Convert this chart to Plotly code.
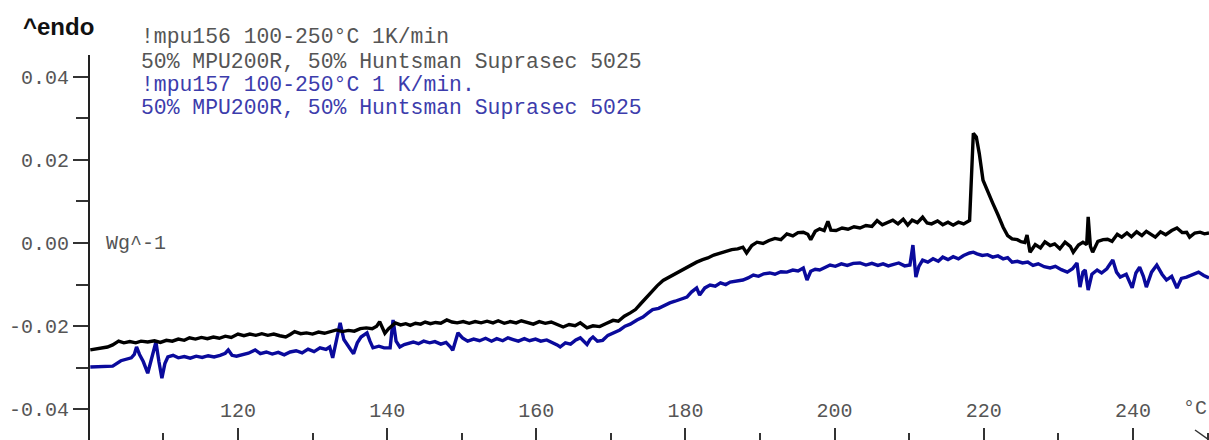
import plotly.graph_objects as go

# ---- data (temperature in °C, heat flow in W/g) ----
t_mpu156 = [100.2, 101.5, 102.5, 103.2, 104.0, 104.7, 105.5, 106.3, 107.0, 107.9, 108.8, 109.6, 110.4, 111.2,
            112.0, 112.8, 113.5, 114.3, 115.1, 115.9, 116.7, 117.5, 118.3, 119.1, 120.0, 120.8, 121.6, 122.4,
            123.2, 124.0, 124.8, 125.6, 126.4, 127.0, 127.6, 128.4, 129.2, 130.0, 130.8, 131.6, 132.4, 133.2,
            134.0, 134.8, 135.6, 136.4, 137.2, 138.0, 138.6, 139.0, 139.4, 139.7, 140.2, 140.7, 141.1, 141.8,
            142.5, 143.1, 143.8, 144.5, 145.1, 145.8, 146.5, 147.2, 148.0, 148.7, 149.4, 150.2, 151.0, 151.8,
            152.6, 153.4, 154.2, 154.9, 155.7, 156.5, 157.3, 158.0, 158.8, 159.6, 160.4, 161.2, 162.0, 162.8,
            163.6, 164.4, 165.2, 165.9, 166.8, 167.6, 168.5, 169.3, 170.3, 171.0, 171.8, 172.6, 173.3, 174.0,
            174.8, 175.5, 176.2, 177.0, 177.8, 178.5, 179.3, 180.0, 180.8, 181.5, 182.3, 183.0, 183.8, 184.6,
            185.4, 186.2, 187.0, 187.7, 188.2, 188.9, 189.6, 190.4, 191.2, 192.0, 192.8, 193.6, 194.4, 195.1,
            195.8, 196.4, 196.8, 197.4, 198.0, 198.6, 199.1, 199.5, 200.2, 201.0, 201.8, 202.6, 203.4, 204.2,
            205.0, 205.7, 206.4, 207.1, 207.8, 208.5, 209.2, 209.8, 210.4, 211.1, 211.8, 212.4, 213.0, 213.8,
            214.5, 215.2, 215.9, 216.6, 217.3, 218.1, 218.4, 218.6, 219.0, 219.4, 219.9, 220.5, 221.2, 221.9,
            222.6, 223.2, 223.8, 224.5, 225.0, 225.5, 225.8, 226.2, 226.9, 227.6, 228.2, 228.9, 229.5, 230.2,
            230.9, 231.6, 232.0, 232.7, 233.3, 233.8, 234.0, 234.3, 234.6, 235.3, 236.0, 236.6, 237.2, 237.9,
            238.5, 239.2, 239.8, 240.5, 241.2, 241.8, 242.3, 243.0, 243.7, 244.4, 245.2, 245.9, 246.6, 247.2,
            247.6, 248.3, 249.0, 249.6, 250.2]
hf_mpu156 = [-0.0257, -0.0253, -0.0250, -0.0245, -0.0236, -0.0240, -0.0237, -0.0240, -0.0236, -0.0238, -0.0235,
             -0.0239, -0.0234, -0.0236, -0.0231, -0.0234, -0.0228, -0.0231, -0.0227, -0.0230, -0.0226, -0.0229,
             -0.0224, -0.0227, -0.0219, -0.0223, -0.0219, -0.0222, -0.0218, -0.0222, -0.0219, -0.0223, -0.0226,
             -0.0220, -0.0213, -0.0218, -0.0216, -0.0219, -0.0214, -0.0217, -0.0212, -0.0209, -0.0213, -0.0210,
             -0.0212, -0.0206, -0.0204, -0.0206, -0.0200, -0.0189, -0.0205, -0.0217, -0.0206, -0.0198, -0.0192,
             -0.0197, -0.0194, -0.0198, -0.0193, -0.0195, -0.0190, -0.0194, -0.0191, -0.0193, -0.0185, -0.0190,
             -0.0192, -0.0189, -0.0193, -0.0189, -0.0192, -0.0188, -0.0192, -0.0187, -0.0193, -0.0189, -0.0192,
             -0.0187, -0.0191, -0.0195, -0.0189, -0.0193, -0.0190, -0.0196, -0.0202, -0.0196, -0.0199, -0.0192,
             -0.0204, -0.0199, -0.0201, -0.0194, -0.0186, -0.0188, -0.0176, -0.0168, -0.0160, -0.0146, -0.0130,
             -0.0118, -0.0103, -0.0090, -0.0082, -0.0076, -0.0069, -0.0060, -0.0054, -0.0046, -0.0040, -0.0036,
             -0.0029, -0.0024, -0.0021, -0.0016, -0.0014, -0.0010, -0.0024, -0.0006, 0.0002, -0.0001, 0.0006,
             0.0011, 0.0008, 0.0022, 0.0017, 0.0025, 0.0026, 0.0021, 0.0008, 0.0028, 0.0034, 0.0030, 0.0052,
             0.0031, 0.0030, 0.0036, 0.0033, 0.0039, 0.0036, 0.0042, 0.0040, 0.0054, 0.0044, 0.0050, 0.0055,
             0.0046, 0.0057, 0.0043, 0.0055, 0.0049, 0.0062, 0.0048, 0.0046, 0.0053, 0.0044, 0.0050, 0.0043,
             0.0050, 0.0046, 0.0054, 0.0200, 0.0264, 0.0255, 0.0215, 0.0151, 0.0124, 0.0096, 0.0068, 0.0038,
             0.0018, 0.0010, 0.0008, 0.0003, 0.0001, 0.0019, -0.0022, -0.0004, -0.0012, 0.0003, -0.0006, -0.0002,
             -0.0014, 0.0002, -0.0008, -0.0022, -0.0005, 0.0002, -0.0004, 0.0063, -0.0008, -0.0022, 0.0004,
             0.0008, 0.0009, 0.0004, 0.0021, 0.0014, 0.0024, 0.0015, 0.0027, 0.0018, 0.0028, 0.0022, 0.0014,
             0.0027, 0.0020, 0.0030, 0.0036, 0.0025, 0.0026, 0.0014, 0.0024, 0.0026, 0.0022, 0.0024]

t_mpu157 = [100.2, 101.5, 102.5, 103.2, 104.3, 105.0, 105.7, 106.1, 106.4, 106.8, 107.3, 107.9, 108.3, 108.7,
            109.0, 109.4, 109.8, 110.2, 110.6, 111.3, 112.0, 112.8, 113.6, 114.4, 115.2, 116.0, 116.8, 117.6,
            118.3, 118.7, 119.2, 119.8, 120.6, 121.4, 122.3, 123.0, 123.8, 124.6, 125.4, 126.2, 127.0, 127.8,
            128.6, 129.4, 130.2, 131.0, 131.8, 132.3, 132.7, 133.2, 133.7, 134.2, 134.6, 135.1, 135.5, 136.0,
            136.5, 137.3, 137.7, 138.1, 138.9, 139.6, 140.4, 140.8, 141.2, 141.7, 142.3, 142.9, 143.5, 144.2,
            144.9, 145.7, 146.4, 147.2, 147.9, 148.5, 148.8, 149.5, 150.1, 150.8, 151.6, 152.4, 153.2, 154.0,
            154.7, 155.5, 156.2, 156.9, 157.6, 158.4, 159.1, 159.9, 160.6, 161.4, 162.1, 162.8, 163.2, 163.9,
            164.6, 165.3, 165.9, 166.4, 166.8, 167.2, 167.6, 168.2, 168.9, 169.6, 170.4, 171.2, 171.9, 172.6,
            173.5, 174.3, 175.0, 175.6, 176.4, 177.1, 177.9, 178.6, 179.4, 180.2, 180.8, 181.5, 181.9, 182.6,
            183.3, 184.0, 184.7, 185.4, 186.0, 186.8, 187.7, 188.4, 189.1, 189.8, 190.5, 191.3, 192.0, 192.8,
            193.6, 194.4, 195.1, 195.8, 196.3, 196.8, 197.4, 198.0, 198.7, 199.4, 200.1, 200.9, 201.7, 202.5,
            203.4, 204.2, 205.0, 205.8, 206.5, 207.2, 207.8, 208.6, 209.4, 210.1, 210.5, 210.9, 211.3, 211.8,
            212.5, 213.2, 213.9, 214.5, 215.2, 215.9, 216.6, 217.3, 218.1, 218.6, 219.1, 219.8, 220.5, 221.2,
            221.9, 222.6, 223.2, 223.8, 224.5, 225.2, 225.9, 226.6, 227.3, 228.1, 228.9, 229.6, 230.4, 231.2,
            231.9, 232.5, 232.9, 233.3, 233.6, 234.0, 234.5, 235.2, 235.8, 236.5, 237.3, 237.8, 238.3, 239.1,
            239.9, 240.4, 240.9, 241.4, 241.8, 242.5, 243.2, 243.9, 244.5, 245.2, 245.9, 246.5, 247.2, 248.0,
            248.8, 249.5, 250.2]
hf_mpu157 = [-0.0298, -0.0298, -0.0297, -0.0296, -0.0283, -0.0279, -0.0276, -0.0268, -0.0250, -0.0268, -0.0285,
             -0.0313, -0.0285, -0.0255, -0.0238, -0.0285, -0.0325, -0.0290, -0.0274, -0.0270, -0.0276, -0.0273,
             -0.0277, -0.0272, -0.0275, -0.0271, -0.0274, -0.0270, -0.0265, -0.0257, -0.0270, -0.0272, -0.0268,
             -0.0265, -0.0257, -0.0266, -0.0262, -0.0267, -0.0263, -0.0269, -0.0262, -0.0259, -0.0264, -0.0255,
             -0.0261, -0.0252, -0.0256, -0.0250, -0.0276, -0.0235, -0.0192, -0.0232, -0.0244, -0.0256, -0.0266,
             -0.0240, -0.0226, -0.0216, -0.0236, -0.0252, -0.0248, -0.0252, -0.0252, -0.0185, -0.0236, -0.0250,
             -0.0244, -0.0240, -0.0238, -0.0242, -0.0236, -0.0240, -0.0237, -0.0243, -0.0239, -0.0250, -0.0258,
             -0.0216, -0.0228, -0.0236, -0.0231, -0.0235, -0.0229, -0.0236, -0.0230, -0.0235, -0.0228, -0.0232,
             -0.0236, -0.0230, -0.0235, -0.0231, -0.0236, -0.0233, -0.0238, -0.0245, -0.0250, -0.0240, -0.0243,
             -0.0233, -0.0228, -0.0236, -0.0244, -0.0232, -0.0226, -0.0236, -0.0234, -0.0222, -0.0216, -0.0209,
             -0.0200, -0.0195, -0.0185, -0.0178, -0.0168, -0.0160, -0.0157, -0.0150, -0.0144, -0.0140, -0.0136,
             -0.0130, -0.0118, -0.0108, -0.0125, -0.0108, -0.0101, -0.0104, -0.0096, -0.0100, -0.0094, -0.0091,
             -0.0089, -0.0084, -0.0077, -0.0080, -0.0074, -0.0072, -0.0075, -0.0069, -0.0070, -0.0065, -0.0067,
             -0.0060, -0.0089, -0.0068, -0.0063, -0.0065, -0.0058, -0.0053, -0.0056, -0.0050, -0.0054, -0.0049,
             -0.0048, -0.0053, -0.0049, -0.0054, -0.0050, -0.0055, -0.0052, -0.0048, -0.0055, -0.0053, -0.0005,
             -0.0082, -0.0056, -0.0041, -0.0046, -0.0038, -0.0044, -0.0034, -0.0040, -0.0033, -0.0038, -0.0030,
             -0.0024, -0.0022, -0.0026, -0.0030, -0.0028, -0.0034, -0.0031, -0.0038, -0.0035, -0.0046, -0.0044,
             -0.0048, -0.0046, -0.0054, -0.0050, -0.0057, -0.0060, -0.0056, -0.0064, -0.0070, -0.0062, -0.0048,
             -0.0106, -0.0070, -0.0065, -0.0113, -0.0075, -0.0065, -0.0072, -0.0062, -0.0041, -0.0070, -0.0082,
             -0.0075, -0.0108, -0.0072, -0.0058, -0.0080, -0.0106, -0.0070, -0.0053, -0.0075, -0.0089, -0.0080,
             -0.0108, -0.0085, -0.0082, -0.0076, -0.0070, -0.0078, -0.0084]

x_major_ticks = [120, 140, 160, 180, 200, 220, 240]
x_minor_ticks = [110, 130, 150, 170, 190, 210, 230, 250]
y_major_ticks = [-0.04, -0.02, 0.00, 0.02, 0.04]
y_minor_ticks = [-0.03, -0.01, 0.01, 0.03]

legend_lines = ["!mpu156 100-250°C 1K/min", "50% MPU200R, 50% Huntsman Suprasec 5025",
                "!mpu157 100-250°C 1 K/min.", "50% MPU200R, 50% Huntsman Suprasec 5025"]

MONO = "Courier New, Liberation Mono, monospace"
BLACK = "#000000"
BLUE = "#0a0a9c"
TXT_GRAY = "#555555"
TXT_BLUE = "#3c3cac"
X_RANGE = [100.16, 250.2]

W, H = 1209, 440
ML, MT = 90, 55
PW, PH = W - ML, H - MT


def px(x):
    return (x - ML) / PW


def py(y):
    return (H - y) / PH


fig = go.Figure()
# blue run on the primary x axis (carries the tick marks)
fig.add_trace(go.Scatter(x=t_mpu157, y=hf_mpu157, mode="lines", xaxis="x", yaxis="y",
                         line=dict(color=BLUE, width=3.4), showlegend=False))
# black run on the overlaid x axis (carries the tick labels), same range
fig.add_trace(go.Scatter(x=t_mpu156, y=hf_mpu156, mode="lines", xaxis="x2", yaxis="y",
                         line=dict(color=BLACK, width=3.4), showlegend=False))

fig.update_layout(
    width=W, height=H,
    margin=dict(l=ML, r=0, t=MT, b=0, pad=0),
    paper_bgcolor="white", plot_bgcolor="white",
    showlegend=False,
    xaxis=dict(
        range=X_RANGE, showgrid=False, zeroline=False, showline=False,
        tickmode="array", tickvals=x_major_ticks, showticklabels=False,
        ticks="inside", ticklen=12, tickwidth=1.5, tickcolor="#333333",
        minor=dict(tickmode="array", tickvals=x_minor_ticks, ticks="inside",
                   ticklen=7, tickwidth=1.5, tickcolor="#333333"),
    ),
    xaxis2=dict(
        range=X_RANGE, overlaying="x", anchor="free", position=py(396), side="bottom",
        showgrid=False, zeroline=False, showline=False, ticks="",
        tickmode="array", tickvals=x_major_ticks, ticktext=[str(v) for v in x_major_ticks],
        tickfont=dict(family=MONO, size=20, color=TXT_GRAY),
    ),
    yaxis=dict(
        range=[-0.04736, 0.0452], showgrid=False, zeroline=False,
        showline=True, linecolor="#222222", linewidth=2,
        tickmode="array", tickvals=y_major_ticks,
        ticktext=["-0.04", "-0.02", "0.00", "0.02", "0.04"],
        ticks="outside", ticklen=15, tickwidth=1.5, tickcolor="#333333",
        tickfont=dict(family=MONO, size=20, color=TXT_GRAY),
        minor=dict(tickmode="array", tickvals=y_minor_ticks, ticks="outside",
                   ticklen=12, tickwidth=1.5, tickcolor="#333333"),
    ),
)

# header and legend text
fig.add_annotation(text="<b>^endo</b>", xref="paper", yref="paper", x=px(21), y=py(27),
                   xanchor="left", yanchor="middle", showarrow=False,
                   font=dict(family="Liberation Sans, Arial, sans-serif", size=24, color="#111111"))
legend_y = [37, 62, 85, 108]
legend_col = [TXT_GRAY, TXT_GRAY, TXT_BLUE, TXT_BLUE]
for txt, yy, col in zip(legend_lines, legend_y, legend_col):
    fig.add_annotation(text=txt, xref="paper", yref="paper", x=px(139), y=py(yy),
                       xanchor="left", yanchor="middle", showarrow=False,
                       font=dict(family=MONO, size=21.4, color=col))

fig.add_annotation(text="Wg^-1", xref="paper", yref="y", x=px(104), y=0.0,
                   xanchor="left", yanchor="middle", showarrow=False,
                   font=dict(family=MONO, size=20, color=TXT_GRAY))
fig.add_annotation(text="°C", xref="paper", yref="paper", x=px(1195), y=py(408),
                   xanchor="center", yanchor="middle", showarrow=False,
                   font=dict(family=MONO, size=20, color=TXT_GRAY))
# axis arrow head stub at bottom-right
fig.add_shape(type="line", xref="paper", yref="paper",
              x0=px(1195), y0=py(430), x1=px(1212), y1=py(442),
              line=dict(color="#333333", width=1.5))

fig.write_html("out.html", config={"displayModeBar": False},
               post_script="document.body.style.margin='0';document.body.style.overflow='hidden';")
